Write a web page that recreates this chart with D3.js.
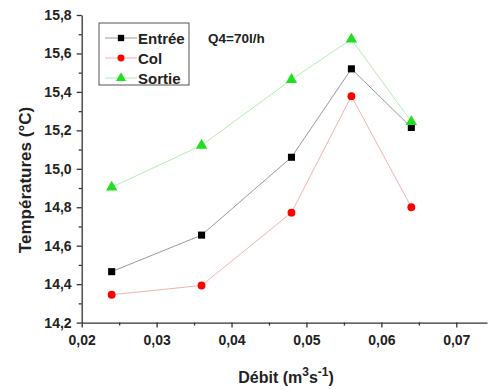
<!DOCTYPE html>
<html>
<head>
<meta charset="utf-8">
<script src="https://cdn.jsdelivr.net/npm/d3@7"></script>
<style>
  html, body { margin: 0; padding: 0; background: #fff; }
  svg { display: block; font-family: "Liberation Sans", Arial, sans-serif; }
</style>
</head>
<body>
<svg id="chart" width="489" height="389"></svg>
<script>
// Flow rate (m3/s) and measured temperatures (°C)
const debit = [0.024, 0.036, 0.048, 0.056, 0.064];
const entree = [14.465, 14.655, 15.06, 15.52, 15.215];
const col = [14.345, 14.393, 14.772, 15.378, 14.80];
const sortie = [14.904, 15.122, 15.464, 15.674, 15.245];

const xTicks = [0.02, 0.03, 0.04, 0.05, 0.06, 0.07];
const yTicks = [14.2, 14.4, 14.6, 14.8, 15.0, 15.2, 15.4, 15.6, 15.8];
const seriesNames = ["Entrée", "Col", "Sortie"];
const annotation = "Q4=70l/h";

const svg = d3.select("#chart");
const plotLeft = 81.7, plotRight = 487, plotTop = 15, plotBottom = 322.6;

const x = d3.scaleLinear().domain([0.02, 0.0741]).range([plotLeft, plotRight]);
const y = d3.scaleLinear().domain([14.2, 15.8]).range([plotBottom, plotTop]);
const fmt = d => d3.format(".2f")(d).replace(".", ",");
const fmtY = d => d3.format(".1f")(d).replace(".", ",");

// Minor ticks
const xMinor = [0.025, 0.035, 0.045, 0.055, 0.065];
const yMinor = [14.3, 14.5, 14.7, 14.9, 15.1, 15.3, 15.5, 15.7];

const xAxis = svg.append("g").attr("transform", `translate(0,${plotBottom})`)
  .call(d3.axisBottom(x).tickValues(xTicks).tickFormat(fmt).tickSize(5).tickSizeOuter(0));
svg.append("g").attr("transform", `translate(0,${plotBottom})`)
  .call(d3.axisBottom(x).tickValues(xMinor).tickFormat("").tickSize(3).tickSizeOuter(0))
  .select(".domain").remove();

const yAxis = svg.append("g").attr("transform", `translate(${plotLeft},0)`)
  .call(d3.axisLeft(y).tickValues(yTicks).tickFormat(fmtY).tickSize(5).tickSizeOuter(0));
svg.append("g").attr("transform", `translate(${plotLeft},0)`)
  .call(d3.axisLeft(y).tickValues(yMinor).tickFormat("").tickSize(3).tickSizeOuter(0))
  .select(".domain").remove();

svg.selectAll(".domain, .tick line").attr("stroke", "#333").attr("stroke-width", 1.3);
xAxis.selectAll("text").attr("font-size", 14).attr("font-weight", "bold").attr("fill", "#222").attr("dy", "1.05em");
yAxis.selectAll("text").attr("font-size", 14).attr("font-weight", "bold").attr("fill", "#222").attr("dx", "-0.15em");

// Axis titles
svg.append("text")
  .attr("transform", `translate(31,180) rotate(-90)`)
  .attr("text-anchor", "middle")
  .attr("font-size", 17).attr("font-weight", "bold").attr("fill", "#222")
  .text("Températures (°C)");

const xt = svg.append("text")
  .attr("x", 286).attr("y", 383)
  .attr("text-anchor", "middle")
  .attr("font-size", 16).attr("font-weight", "bold").attr("fill", "#222");
xt.append("tspan").text("Débit (m");
xt.append("tspan").attr("dy", -7).attr("font-size", 12).text("3");
xt.append("tspan").attr("dy", 7).text("s");
xt.append("tspan").attr("dy", -7).attr("font-size", 12).text("-1");
xt.append("tspan").attr("dy", 7).text(")");

// Series
const series = [
  { name: seriesNames[0], values: entree, line: "#999999", fill: "#000", shape: d3.symbolSquare, size: 50 },
  { name: seriesNames[1], values: col, line: "#f3b0b0", fill: "#f00", shape: d3.symbolCircle, size: 48 },
  { name: seriesNames[2], values: sortie, line: "#b4ecb4", fill: "#1ee01e", shape: d3.symbolTriangle, size: 56 }
];

const line = d3.line().x(d => x(d[0])).y(d => y(d[1]));

series.forEach(s => {
  const pts = debit.map((d, i) => [d, s.values[i]]);
  svg.append("path").datum(pts)
    .attr("d", line).attr("fill", "none")
    .attr("stroke", s.line).attr("stroke-width", 1);
});
series.forEach(s => {
  const pts = debit.map((d, i) => [d, s.values[i]]);
  svg.append("g").selectAll("path").data(pts).join("path")
    .attr("transform", d => `translate(${x(d[0])},${y(d[1])})`)
    .attr("d", d3.symbol().type(s.shape).size(s.size))
    .attr("fill", s.fill);
});

// Legend
const lg = svg.append("g");
lg.append("rect").attr("x", 99).attr("y", 23).attr("width", 90).attr("height", 62)
  .attr("fill", "#fff").attr("stroke", "#555").attr("stroke-width", 1);
series.forEach((s, i) => {
  const cy = 38 + i * 20;
  lg.append("line").attr("x1", 105).attr("x2", 137).attr("y1", cy).attr("y2", cy)
    .attr("stroke", s.line).attr("stroke-width", 1);
  lg.append("path").attr("transform", `translate(121,${cy})`)
    .attr("d", d3.symbol().type(s.shape).size(s.size * 0.8)).attr("fill", s.fill);
  lg.append("text").attr("x", 138).attr("y", cy + 5.5)
    .attr("font-size", 15).attr("font-weight", "bold").attr("fill", "#222")
    .text(s.name);
});

svg.append("text").attr("x", 208).attr("y", 43)
  .attr("font-size", 13.5).attr("font-weight", "bold").attr("fill", "#222")
  .text(annotation);
</script>
</body>
</html>
